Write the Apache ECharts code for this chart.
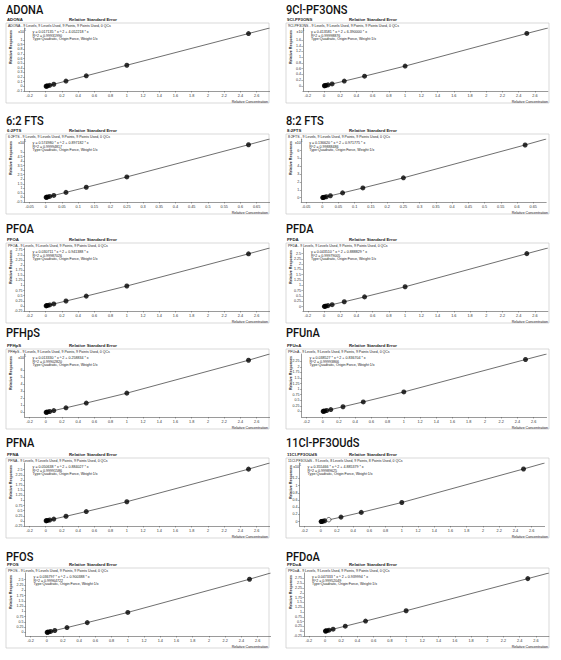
<!DOCTYPE html>
<html>
<head>
<meta charset="utf-8">
<script src="https://cdn.jsdelivr.net/npm/echarts@6/dist/echarts.min.js"></script>
<style>
html, body { margin: 0; padding: 0; background: #fff; }
#chart { width: 561px; height: 660px; }
</style>
</head>
<body>
<div id="chart"></div>
<script>
// ---- data ----
const titles = ['ADONA', '9Cl-PF3ONS', '6:2 FTS', '8:2 FTS', 'PFOA', 'PFDA',
  'PFHpS', 'PFUnA', 'PFNA', '11Cl-PF3OUdS', 'PFOS', 'PFDoA'];
const shortNames = ['ADONA', '9Cl-PF3ONS', '6:2FTS', '8:2FTS', 'PFOA', 'PFDA',
  'PFHpS', 'PFUnA', 'PFNA', '11Cl-PF3OUdS', 'PFOS', 'PFDoA'];
const levelInfo = [
  'ADONA - 9 Levels, 9 Levels Used, 9 Points, 9 Points Used, 0 QCs',
  '9Cl-PF3ONS - 9 Levels, 9 Levels Used, 9 Points, 9 Points Used, 0 QCs',
  '6:2FTS - 9 Levels, 9 Levels Used, 9 Points, 9 Points Used, 0 QCs',
  '8:2FTS - 9 Levels, 9 Levels Used, 9 Points, 9 Points Used, 0 QCs',
  'PFOA - 9 Levels, 9 Levels Used, 9 Points, 9 Points Used, 0 QCs',
  'PFDA - 9 Levels, 9 Levels Used, 9 Points, 9 Points Used, 0 QCs',
  'PFHpS - 9 Levels, 9 Levels Used, 9 Points, 9 Points Used, 0 QCs',
  'PFUnA - 9 Levels, 9 Levels Used, 9 Points, 9 Points Used, 0 QCs',
  'PFNA - 9 Levels, 9 Levels Used, 9 Points, 9 Points Used, 0 QCs',
  '11Cl-PF3OUdS - 9 Levels, 8 Levels Used, 9 Points, 8 Points Used, 0 QCs',
  'PFOS - 9 Levels, 9 Levels Used, 9 Points, 9 Points Used, 0 QCs',
  'PFDoA - 9 Levels, 9 Levels Used, 9 Points, 9 Points Used, 0 QCs'
];
const equations = [
  'y = 0.017135 * x ^ 2 + 4.052218 * x',
  'y = 0.413581 * x ^ 2 + 6.390000 * x',
  'y = 0.574980 * x ^ 2 + 0.897182 * x',
  'y = 0.136620 * x ^ 2 + 0.971775 * x',
  'y = 0.030711 * x ^ 2 + 0.941388 * x',
  'y = 0.043510 * x ^ 2 + 0.888829 * x',
  'y = 0.013330 * x ^ 2 + 0.258834 * x',
  'y = 0.038527 * x ^ 2 + 0.836704 * x',
  'y = 0.050638 * x ^ 2 + 0.884027 * x',
  'y = 0.355466 * x ^ 2 + 4.885379 * x',
  'y = 0.036797 * x ^ 2 + 0.900388 * x',
  'y = 0.047333 * x ^ 2 + 0.939994 * x'
];
const rSquared = ['R^2 = 0.99931990', 'R^2 = 0.99998876', 'R^2 = 0.99994817',
  'R^2 = 0.99888486', 'R^2 = 0.99987026', 'R^2 = 0.99979005', 'R^2 = 0.99902820',
  'R^2 = 0.99993866', 'R^2 = 0.99991586', 'R^2 = 0.99989625', 'R^2 = 0.99964722',
  'R^2 = 0.99952049'];
const curveType = 'Type:Quadratic, Origin:Force, Weight:1/x';
const hasMultiplier = [true, true, true, true, false, false, true, false, false, true, false, false];

const concStd = [0.005, 0.01, 0.025, 0.05, 0.1, 0.25, 0.5, 1, 2.5];
const concFts = [0.00125, 0.0025, 0.00625, 0.0125, 0.025, 0.0625, 0.125, 0.25, 0.625];

const respADONA = [0.002, 0.005, 0.011, 0.023, 0.046, 0.114, 0.228, 0.456, 1.14];
const resp9ClPF3ONS = [0.0033, 0.0066, 0.0166, 0.033, 0.066, 0.167, 0.338, 0.69, 1.83];
const resp62FTS = [0.011, 0.022, 0.056, 0.111, 0.222, 0.557, 1.12, 2.26, 5.8];
const resp82FTS = [0.012, 0.024, 0.061, 0.121, 0.243, 0.613, 1.24, 2.53, 6.72];
const respPFOA = [0.0047, 0.0094, 0.0236, 0.0471, 0.0944, 0.2373, 0.4784, 0.972, 2.545];
const respPFDA = [0.0044, 0.0089, 0.0222, 0.0445, 0.0893, 0.2249, 0.4553, 0.9323, 2.494];
const respPFHpS = [0.013, 0.026, 0.064, 0.129, 0.258, 0.65, 1.32, 2.72, 7.37];
const respPFUnA = [0.0042, 0.0084, 0.0209, 0.0419, 0.0841, 0.2116, 0.428, 0.8752, 2.332];
const respPFNA = [0.0044, 0.0088, 0.0221, 0.0443, 0.0889, 0.2242, 0.4547, 0.9346, 2.526];
const resp11ClPF3OUdS = [0.0025, 0.005, 0.0125, 0.025, 0.055, 0.1267, 0.258, 0.533, 1.464];
const respPFOS = [0.0046, 0.0091, 0.0228, 0.0456, 0.0914, 0.23, 0.465, 0.95, 2.525];
const respPFDoA = [0.0052, 0.0105, 0.0261, 0.0523, 0.1047, 0.2625, 0.5275, 1.065, 2.7375];

const responses = [respADONA, resp9ClPF3ONS, resp62FTS, resp82FTS, respPFOA, respPFDA,
  respPFHpS, respPFUnA, respPFNA, resp11ClPF3OUdS, respPFOS, respPFDoA];
const useFtsConc = [false, false, true, true, false, false, false, false, false, false, false, false];
// index of the level left out of the fit (drawn hollow)
const excludedLevel = [-1, -1, -1, -1, -1, -1, -1, -1, -1, 4, -1, -1];
// value of the fitted curve where it meets the right edge
const fitEnd = [1.26, 2.02, 6.43, 7.48, 2.83, 2.76, 8.25, 2.58, 2.825, 1.63, 2.82, 3.03];

const xTicksStd = [-0.2, 0, 0.2, 0.4, 0.6, 0.8, 1, 1.2, 1.4, 1.6, 1.8, 2, 2.2, 2.4, 2.6];
const xTicksFts = [-0.05, 0, 0.05, 0.1, 0.15, 0.2, 0.25, 0.3, 0.35, 0.4, 0.45, 0.5, 0.55, 0.6, 0.65];
const xRangeStd = [-0.26, 2.76];
const xRangeFts = [-0.065, 0.69];

const yTicks = [
  [-0.1, 0, 0.1, 0.2, 0.3, 0.4, 0.5, 0.6, 0.7, 0.8, 0.9, 1],
  [0, 0.2, 0.4, 0.6, 0.8, 1, 1.2, 1.4, 1.6],
  [-0.5, 0, 0.5, 1, 1.5, 2, 2.5, 3, 3.5, 4, 4.5, 5],
  [0, 1, 2, 3, 4, 5, 6],
  [-0.25, 0, 0.25, 0.5, 0.75, 1, 1.25, 1.5, 1.75, 2, 2.25, 2.5, 2.75],
  [0, 0.25, 0.5, 0.75, 1, 1.25, 1.5, 1.75, 2, 2.25, 2.5],
  [0, 1, 2, 3, 4, 5, 6],
  [0, 0.25, 0.5, 0.75, 1, 1.25, 1.5, 1.75, 2, 2.25],
  [-0.25, 0, 0.25, 0.5, 0.75, 1, 1.25, 1.5, 1.75, 2, 2.25, 2.5],
  [0, 0.2, 0.4, 0.6, 0.8, 1, 1.2],
  [0, 0.25, 0.5, 0.75, 1, 1.25, 1.5, 1.75, 2, 2.25, 2.5],
  [-0.25, 0, 0.25, 0.5, 0.75, 1, 1.25, 1.5, 1.75, 2, 2.25, 2.5, 2.75]
];
const yRange = [[-0.1, 1.26], [-0.18, 2.02], [-0.5, 6.43], [-0.55, 7.48], [-0.25, 2.83],
  [-0.21, 2.76], [-0.65, 8.25], [-0.25, 2.58], [-0.25, 2.825], [-0.12, 1.63],
  [-0.17, 2.82], [-0.25, 3.03]];

// ---- layout ----
const colX = [0, 280];
const rowY = [0, 111, 220, 326, 435, 545];
const titleY = [10, 121, 228.5, 333, 443, 557];
const plotLeft = [24.6, 22.9, 24.6, 21.2, 24.6, 22.9, 24.6, 21.6, 24.6, 19.6, 25.6, 23.9];
const plotW = 245, plotH = 63;

const small = 'Liberation Sans, Arial, sans-serif';
const titleFont = 'Roboto, sans-serif';

const grids = [], xAxes = [], yAxes = [], series = [], graphics = [];

function txt(x, y, text, size, opt) {
  opt = opt || {};
  graphics.push({
    type: 'text', x: x, y: y, rotation: opt.rotation || 0,
    scaleX: opt.scaleX || 1, silent: true,
    style: {
      text: text, fontSize: size, fontFamily: opt.family || small,
      fontWeight: opt.weight || (opt.bold ? 'bold' : 'normal'), fill: opt.color || '#222',
      align: opt.align || 'left', verticalAlign: 'middle'
    }
  });
}

titles.forEach(function (name, i) {
  const col = i % 2, row = Math.floor(i / 2);
  const cx = colX[col], ry = rowY[row];
  const pl = cx + plotLeft[i], pt = ry + 28, pb = pt + plotH;
  const xr = useFtsConc[i] ? xRangeFts : xRangeStd;
  const xt = useFtsConc[i] ? xTicksFts : xTicksStd;
  const conc = useFtsConc[i] ? concFts : concStd;

  grids.push({ left: pl, top: pt, width: plotW, height: plotH });
  xAxes.push({
    gridIndex: i, type: 'value', min: xr[0], max: xr[1],
    axisLine: { onZero: false, lineStyle: { color: '#555', width: 0.6 } },
    axisTick: { length: 1.5, customValues: xt, lineStyle: { color: '#555', width: 0.5 } },
    axisLabel: { customValues: xt, fontSize: 3.8, color: '#333', margin: 2.5, fontFamily: small },
    splitLine: { show: false }
  });
  yAxes.push({
    gridIndex: i, type: 'value', min: yRange[i][0], max: yRange[i][1],
    axisLine: { show: true, onZero: false, lineStyle: { color: '#555', width: 0.6 } },
    axisTick: { show: true, length: 1.5, customValues: yTicks[i], lineStyle: { color: '#555', width: 0.5 } },
    axisLabel: { customValues: yTicks[i], fontSize: 3.6, color: '#333', margin: 2, fontFamily: small },
    splitLine: { show: false }
  });

  const used = [], dropped = [], curve = [[0, 0]];
  responses[i].forEach(function (v, k) {
    if (k === excludedLevel[i]) { dropped.push([conc[k], v]); return; }
    used.push([conc[k], v]);
    curve.push([conc[k], v]);
  });
  curve.push([xr[1], fitEnd[i]]);

  series.push({
    type: 'line', xAxisIndex: i, yAxisIndex: i, data: curve, showSymbol: false,
    silent: true, lineStyle: { color: '#4a4a4a', width: 0.8 }, z: 2
  });
  series.push({
    type: 'scatter', xAxisIndex: i, yAxisIndex: i, data: used, symbolSize: 5,
    itemStyle: { color: '#000' }, z: 3
  });
  if (dropped.length) {
    series.push({
      type: 'scatter', xAxisIndex: i, yAxisIndex: i, data: dropped, symbol: 'circle',
      symbolSize: 4.5, itemStyle: { color: '#fff', borderColor: '#000', borderWidth: 0.7 }, z: 3
    });
  }

  // frame round the report block
  graphics.push({
    type: 'rect', silent: true, shape: { x: cx + 6, y: ry + 23, width: 263, height: 80 },
    style: { fill: 'none', stroke: '#c8c8c8', lineWidth: 0.7 }
  });
  txt(cx + 6, titleY[row], name, 13, { weight: 500, family: titleFont, color: '#111', scaleX: 0.85 });
  txt(cx + 7, ry + 19.5, shortNames[i], 4.3, { bold: true });
  txt(cx + 93, ry + 19.5, 'Relative Standard Error', 4.3, { bold: true, align: 'center' });
  txt(cx + 8, ry + 25.6, levelInfo[i], 3.5);
  txt(pl + 8, ry + 32, equations[i], 3.6);
  txt(pl + 8, ry + 35.5, rSquared[i], 3.6);
  txt(pl + 8, ry + 39, curveType, 3.6);
  if (hasMultiplier[i]) {
    txt(pl - 0.5, ry + 32.3, 'x10', 3.6, { align: 'right' });
    txt(pl - 0.2, ry + 30.6, '1', 2.6);
  }
  txt(cx + 10.5, ry + 47, 'Relative Responses', 3.6, { bold: true, rotation: Math.PI / 2, align: 'center' });
  txt(cx + 268, pb + 10.5, 'Relative Concentration', 3.6, { align: 'right' });
});

const chart = echarts.init(document.getElementById('chart'), null, { renderer: 'svg' });
chart.setOption({
  animation: false,
  grid: grids,
  xAxis: xAxes,
  yAxis: yAxes,
  series: series,
  graphic: { elements: graphics }
});
</script>
</body>
</html>
